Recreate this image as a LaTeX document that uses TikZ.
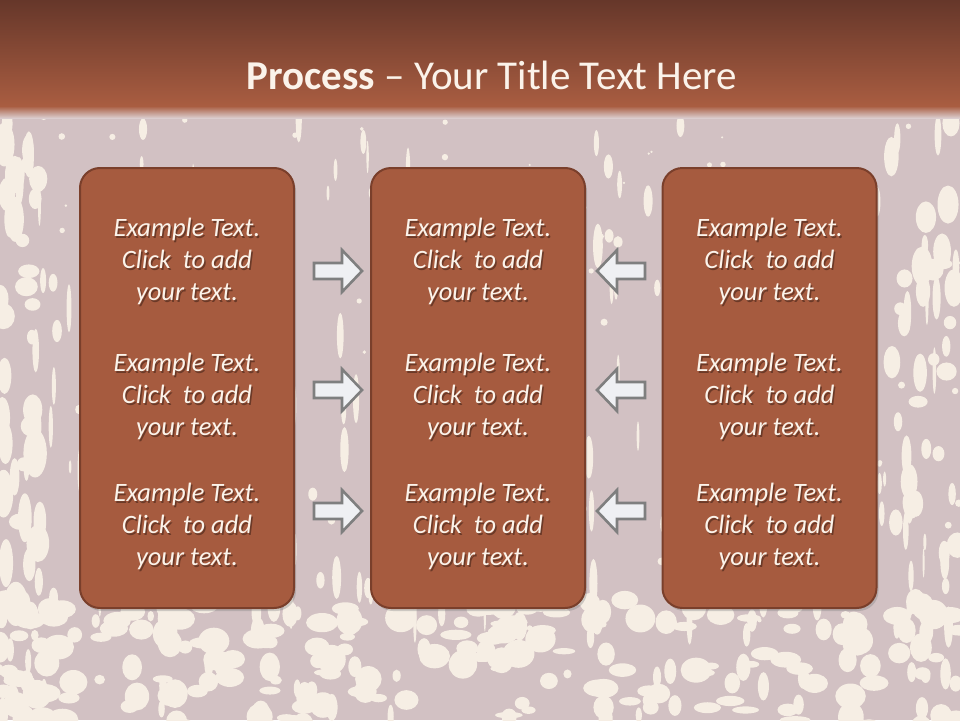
\documentclass[tikz,border=0pt]{standalone}
\usepackage{fontspec}
\setmainfont{Carlito}
\usetikzlibrary{shadows}
\definecolor{bgmauve}{HTML}{D2C1C3}
\definecolor{cream}{HTML}{F6EEE4}
\definecolor{hdtop}{HTML}{66372A}
\definecolor{hdbot}{HTML}{A95D41}
\definecolor{boxfill}{HTML}{A65B3F}
\definecolor{boxline}{HTML}{7A3F2B}
\definecolor{txt}{HTML}{FBF3EA}
\definecolor{arrfill}{HTML}{EFF0F3}
\definecolor{arrline}{HTML}{7F7F7F}
\tikzset{
  stepbox/.style={draw=boxline, line width=2pt, fill=boxfill, rounded corners=20pt,
    minimum width=214pt, minimum height=440pt, inner sep=0pt,
    drop shadow={shadow xshift=2pt, shadow yshift=-3pt, opacity=0.35}},
  boxtext/.style={align=center, font=\fontsize{26.5}{32}\selectfont\itshape, text=txt, inner sep=0pt},
  shadowtext/.style={align=center, font=\fontsize{26.5}{32}\selectfont\itshape, text=black!60!boxline, opacity=0.5, inner sep=0pt},
  blockarrow/.style={draw=arrline, line width=2.6pt, fill=arrfill, line join=miter},
  rarr/.pic={\path[blockarrow] (-24,-8) -- (4,-8) -- (4,-21) -- (24,0) -- (4,21) -- (4,8) -- (-24,8) -- cycle;},
  larr/.pic={\path[blockarrow] (24,-8) -- (-4,-8) -- (-4,-21) -- (-24,0) -- (-4,21) -- (-4,8) -- (24,8) -- cycle;}
}
\newcommand{\exampletext}{Example Text.\\Click~ to add\\your text.}
\begin{document}
\begin{tikzpicture}[x=1pt,y=-1pt]
\useasboundingbox (0,0) rectangle (960,720);
\begin{scope}
\clip (0,0) rectangle (960,720);
\fill[bgmauve] (0,0) rectangle (960,720);
% grunge texture
\pgfmathsetseed{12}
\foreach \i in {1,...,170}{
  \pgfmathsetmacro\px{rnd*960}
  \pgfmathsetmacro\py{110+rnd*520}
  \pgfmathsetmacro\rx{1+rnd*4}
  \pgfmathsetmacro\ry{3+rnd*22}
  \fill[cream] (\px,\py) ellipse ({\rx pt} and {\ry pt});
}
\foreach \i in {1,...,90}{
  \pgfmathsetmacro\px{rnd*960}
  \pgfmathsetmacro\py{110+rnd*520}
  \pgfmathsetmacro\rx{1+rnd*3}
  \fill[cream] (\px,\py) circle ({\rx pt});
}
\foreach \i in {1,...,230}{
  \pgfmathsetmacro\px{rnd*960}
  \pgfmathsetmacro\py{600+rnd*130}
  \pgfmathsetmacro\rx{3+rnd*13}
  \pgfmathsetmacro\ry{3+rnd*12}
  \fill[cream] (\px,\py) ellipse ({\rx pt} and {\ry pt});
}
\foreach \i in {1,...,50}{
  \pgfmathsetmacro\px{rnd*40}
  \pgfmathsetmacro\py{120+rnd*600}
  \pgfmathsetmacro\rx{3+rnd*9}
  \pgfmathsetmacro\ry{5+rnd*20}
  \fill[cream] (\px,\py) ellipse ({\rx pt} and {\ry pt});
}
\foreach \i in {1,...,40}{
  \pgfmathsetmacro\px{890+rnd*70}
  \pgfmathsetmacro\py{120+rnd*600}
  \pgfmathsetmacro\rx{3+rnd*8}
  \pgfmathsetmacro\ry{5+rnd*16}
  \fill[cream] (\px,\py) ellipse ({\rx pt} and {\ry pt});
}
% header
\shade[top color=hdtop, bottom color=hdbot] (0,0) rectangle (960,106);
\shade[top color=hdbot, bottom color=bgmauve!80!white] (0,106) rectangle (960,118);
\end{scope}
\node (title) at (492,75) {\fontsize{41}{46}\selectfont\color{txt}\textbf{Process} – Your Title Text Here};
% boxes
\node[stepbox] (b1) at (187,388) {};
\node[stepbox] (b2) at (478,388) {};
\node[stepbox] (b3) at (769.5,388) {};
\foreach \b/\x in {1/187,2/478,3/769.5}{
  \foreach \r/\y in {1/261,2/396,3/526}{
    \node[shadowtext] (s\b\r) at (\x+1.5,\y+2) {\exampletext};
    \node[boxtext] (t\b\r) at (\x,\y) {\exampletext};
  }
}
% arrows
\pic (ra1) at (338,271) {rarr};
\pic (ra2) at (338,390) {rarr};
\pic (ra3) at (338,511) {rarr};
\pic (la1) at (621,271) {larr};
\pic (la2) at (621,390) {larr};
\pic (la3) at (621,511) {larr};
\end{tikzpicture}
\end{document}
